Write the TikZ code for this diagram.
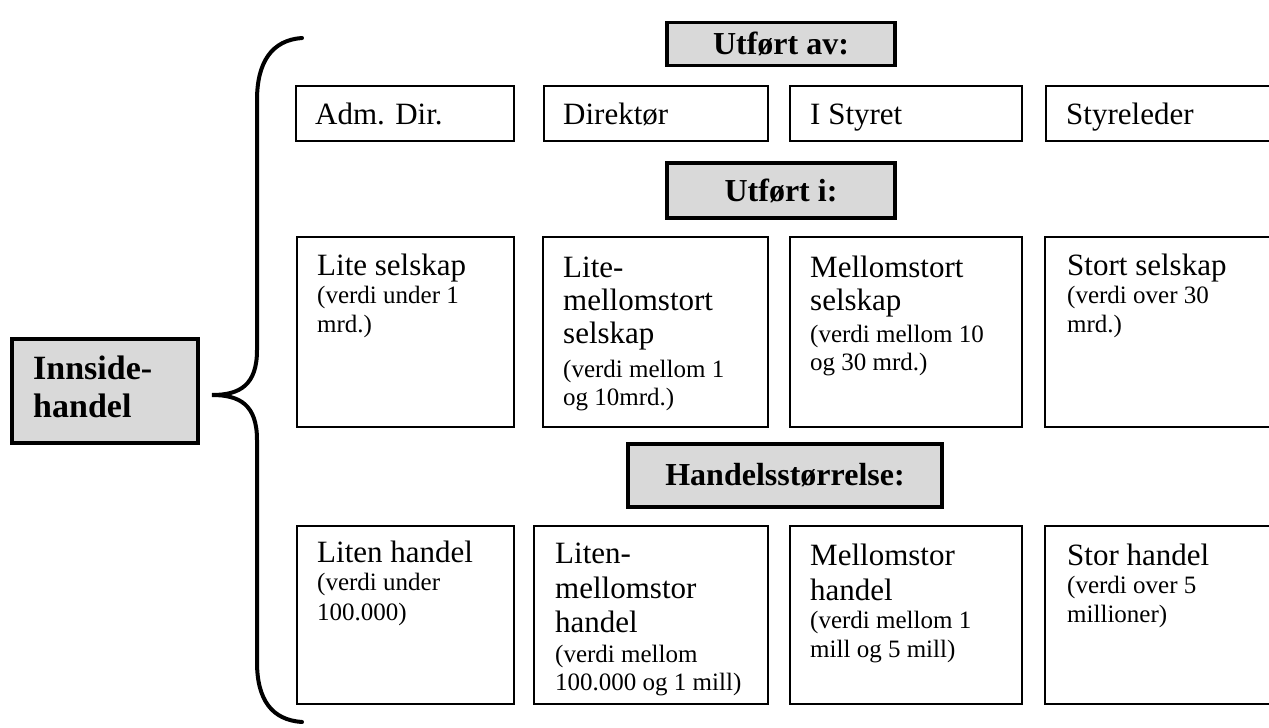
\documentclass[tikz,border=0pt]{standalone}
\usepackage{fontspec}
\setmainfont{Liberation Serif}
\begin{document}
\begin{tikzpicture}[x=1pt,y=-1pt,
  hdr/.style={draw=black, line width=3.5pt, fill=black!15, inner sep=0pt,
    font=\bfseries\fontsize{32}{36}\selectfont},
  cell/.style={draw=black, line width=1.5pt, inner sep=0pt, anchor=north west},
  mainline/.style={inner sep=0pt, anchor=base west, font=\fontsize{31}{33}\selectfont},
  smallline/.style={inner sep=0pt, anchor=base west, font=\fontsize{25}{28}\selectfont},
  brace/.style={line width=4pt, line cap=round}]
\useasboundingbox (0,0) rectangle (1269,728);
\clip (0,0) rectangle (1269,728);

% Left box
\node[draw=black, line width=3.5pt, fill=black!15, minimum width=186pt, minimum height=104pt, anchor=north west] (inn) at (10,337) {};
\node[inner sep=0pt, anchor=base west, font=\bfseries\fontsize{34}{38}\selectfont] (innA) at (33,379) {Innside-};
\node[inner sep=0pt, anchor=base west, font=\bfseries\fontsize{34}{38}\selectfont] (innB) at (33,417) {handel};

% Brace
\coordinate (btop) at (302,38);
\coordinate (btip) at (212,395);
\coordinate (bbot) at (302,722);
\draw[brace] (btop) .. controls (272,40) and (257,62) .. (257,100)
  -- (257,350) .. controls (257,385) and (240,395) .. (btip)
  .. controls (240,395) and (257,405) .. (257,440)
  -- (257,662) .. controls (257,700) and (272,720) .. (bbot);

% Headers
\node[hdr, minimum width=228pt, minimum height=43pt] (h1) at (781,44) {Utført av:};
\node[hdr, minimum width=228pt, minimum height=55pt] (h2) at (781,190.5) {Utført i:};
\node[hdr, minimum width=314pt, minimum height=63pt] (h3) at (785,475.5) {Handelsstørrelse:};

% Row 1
\node[cell, minimum width=218pt, minimum height=55pt] (r1a) at (295,85) {};
\node[cell, minimum width=224pt, minimum height=55pt] (r1b) at (543,85) {};
\node[cell, minimum width=232pt, minimum height=55pt] (r1c) at (789,85) {};
\node[cell, minimum width=260pt, minimum height=55pt] (r1d) at (1045,85) {};
\node[mainline] (t1a) at (315,124) {Adm. Dir.};
\node[mainline] (t1b) at (563,124) {Direktør};
\node[mainline] (t1c) at (810,124) {I Styret};
\node[mainline] (t1d) at (1066,124) {Styreleder};

% Row 2
\node[cell, minimum width=217pt, minimum height=190pt] (r2a) at (296,236) {};
\node[cell, minimum width=225pt, minimum height=190pt] (r2b) at (542,236) {};
\node[cell, minimum width=232pt, minimum height=190pt] (r2c) at (789,236) {};
\node[cell, minimum width=260pt, minimum height=190pt] (r2d) at (1044,236) {};

\node[mainline] (t2a1) at (317,275) {Lite selskap};
\node[smallline] (t2a2) at (317,303) {(verdi under 1};
\node[smallline] (t2a3) at (317,332) {mrd.)};

\node[mainline] (t2b1) at (563,277) {Lite-};
\node[mainline] (t2b2) at (563,310) {mellomstort};
\node[mainline] (t2b3) at (563,343) {selskap};
\node[smallline] (t2b4) at (563,377) {(verdi mellom 1};
\node[smallline] (t2b5) at (563,405) {og 10mrd.)};

\node[mainline] (t2c1) at (810,277) {Mellomstort};
\node[mainline] (t2c2) at (810,310) {selskap};
\node[smallline] (t2c3) at (810,342) {(verdi mellom 10};
\node[smallline] (t2c4) at (810,370) {og 30 mrd.)};

\node[mainline] (t2d1) at (1067,275) {Stort selskap};
\node[smallline] (t2d2) at (1067,303) {(verdi over 30};
\node[smallline] (t2d3) at (1067,332) {mrd.)};

% Row 3
\node[cell, minimum width=217pt, minimum height=178pt] (r3a) at (296,525) {};
\node[cell, minimum width=234pt, minimum height=178pt] (r3b) at (533,525) {};
\node[cell, minimum width=232pt, minimum height=178pt] (r3c) at (789,525) {};
\node[cell, minimum width=260pt, minimum height=178pt] (r3d) at (1044,525) {};

\node[mainline] (t3a1) at (317,562) {Liten handel};
\node[smallline] (t3a2) at (317,590) {(verdi under};
\node[smallline] (t3a3) at (317,620) {100.000)};

\node[mainline] (t3b1) at (555,563) {Liten-};
\node[mainline] (t3b2) at (555,598) {mellomstor};
\node[mainline] (t3b3) at (555,632) {handel};
\node[smallline] (t3b4) at (555,662) {(verdi mellom};
\node[smallline] (t3b5) at (555,690) {100.000 og 1 mill)};

\node[mainline] (t3c1) at (810,565) {Mellomstor};
\node[mainline] (t3c2) at (810,600) {handel};
\node[smallline] (t3c3) at (810,628) {(verdi mellom 1};
\node[smallline] (t3c4) at (810,657) {mill og 5 mill)};

\node[mainline] (t3d1) at (1067,565) {Stor handel};
\node[smallline] (t3d2) at (1067,593) {(verdi over 5};
\node[smallline] (t3d3) at (1067,622) {millioner)};
\end{tikzpicture}
\end{document}
